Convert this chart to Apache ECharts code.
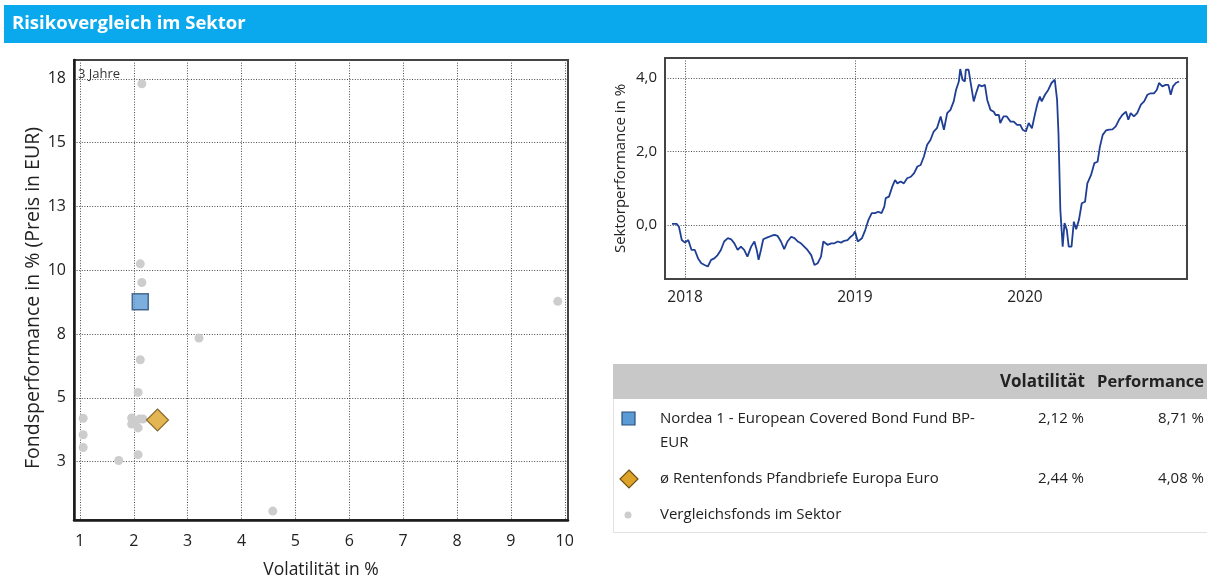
<!DOCTYPE html>
<html><head><meta charset="utf-8">
<script src="https://cdn.jsdelivr.net/npm/echarts@6/dist/echarts.min.js"></script>
<style>html,body{margin:0;padding:0;background:#fff}#c{width:1207px;height:584px}</style>
</head><body><div id="c"></div>
<script>
// ---------- data ----------
const titleText = 'Risikovergleich im Sektor';
const periodLabel = '3 Jahre';
const fundName = ['Nordea 1 - European Covered Bond Fund BP-', 'EUR'];
const fundPoint = [2.12, 8.71];
const avgName = 'ø Rentenfonds Pfandbriefe Europa Euro';
const avgPoint = [2.44, 4.08];
const peersName = 'Vergleichsfonds im Sektor';
const peerPoints = [
  [2.15, 17.26], [2.12, 10.2], [2.15, 9.47], [3.21, 7.29], [2.12, 6.44], [2.08, 5.16],
  [1.96, 4.16], [2.02, 3.96], [2.08, 3.77], [1.96, 3.92], [2.17, 4.12], [2.11, 4.12],
  [2.08, 2.72], [1.72, 2.49], [1.06, 4.15], [1.06, 3.5], [1.06, 3.0], [4.58, 0.51], [9.87, 8.73]
];
const scatterXTicks = [1, 2, 3, 4, 5, 6, 7, 8, 9, 10];
const scatterYTicks = [2.45, 4.95, 7.45, 9.95, 12.45, 14.95, 17.45];
const scatterYTickLabels = ['3', '5', '8', '10', '13', '15', '18'];
const tableHeaders = ['Volatilität', 'Performance'];

const sectorDates = [
 '2017-12-04','2017-12-14','2017-12-19','2017-12-25','2018-01-01','2018-01-08','2018-01-15','2018-01-22','2018-01-29',
 '2018-02-05','2018-02-12','2018-02-19','2018-02-26','2018-03-05','2018-03-12','2018-03-19','2018-03-26','2018-04-03',
 '2018-04-10','2018-04-17','2018-04-24','2018-05-01','2018-05-08','2018-05-15','2018-05-23','2018-05-30','2018-06-04',
 '2018-06-08','2018-06-13','2018-06-18','2018-06-27','2018-07-05','2018-07-12','2018-07-19','2018-07-26','2018-08-02',
 '2018-08-09','2018-08-17','2018-08-24','2018-08-31','2018-09-07','2018-09-14','2018-09-21','2018-09-29','2018-10-06',
 '2018-10-13','2018-10-20','2018-10-25','2018-11-03','2018-11-11','2018-11-18','2018-11-25','2018-12-02','2018-12-09',
 '2018-12-16','2018-12-23','2018-12-28','2019-01-01','2019-01-07','2019-01-16','2019-01-23','2019-01-30','2019-02-06',
 '2019-02-13','2019-02-20','2019-02-27','2019-03-05','2019-03-08','2019-03-15','2019-03-22','2019-03-28','2019-04-02',
 '2019-04-09','2019-04-16','2019-04-23','2019-05-01','2019-05-08','2019-05-15','2019-05-22','2019-05-29','2019-06-05',
 '2019-06-12','2019-06-19','2019-06-26','2019-07-04','2019-07-11','2019-07-18','2019-07-25','2019-08-01','2019-08-06',
 '2019-08-12','2019-08-15','2019-08-20','2019-08-25','2019-08-27','2019-09-02','2019-09-06','2019-09-13','2019-09-18',
 '2019-09-24','2019-10-01','2019-10-07','2019-10-12','2019-10-19','2019-10-26','2019-10-30','2019-11-06','2019-11-09',
 '2019-11-16','2019-11-23','2019-12-01','2019-12-08','2019-12-15','2019-12-22','2019-12-27','2020-01-03','2020-01-09',
 '2020-01-16','2020-01-23','2020-01-28','2020-02-02','2020-02-06','2020-02-13','2020-02-20','2020-02-27','2020-03-05',
 '2020-03-10','2020-03-13','2020-03-17','2020-03-20','2020-03-22','2020-03-26','2020-03-31','2020-04-04','2020-04-10',
 '2020-04-15','2020-04-20','2020-04-26','2020-05-02','2020-05-09','2020-05-14','2020-05-22','2020-05-29','2020-06-05',
 '2020-06-10','2020-06-16','2020-06-23','2020-06-30','2020-07-07','2020-07-14','2020-07-21','2020-07-28','2020-08-05',
 '2020-08-10','2020-08-15','2020-08-22','2020-08-29','2020-09-06','2020-09-13','2020-09-20','2020-09-27','2020-10-04',
 '2020-10-10','2020-10-15','2020-10-22','2020-10-29','2020-11-04','2020-11-09','2020-11-14','2020-11-20','2020-11-27'
];
const sectorValues = [
 0.03, 0.03, -0.05, -0.41, -0.48, -0.41, -0.68, -0.68, -0.91,
 -1.04, -1.09, -1.13, -0.95, -0.91, -0.82, -0.68, -0.45, -0.36,
 -0.39, -0.50, -0.68, -0.59, -0.68, -0.86, -0.59, -0.45, -0.68,
 -0.95, -0.68, -0.39, -0.34, -0.30, -0.27, -0.30, -0.45, -0.66,
 -0.45, -0.32, -0.36, -0.45, -0.50, -0.59, -0.68, -0.82, -1.09,
 -1.04, -0.86, -0.45, -0.54, -0.50, -0.50, -0.45, -0.48, -0.43,
 -0.41, -0.32, -0.27, -0.18, -0.45, -0.36, -0.14, 0.14, 0.32,
 0.32, 0.36, 0.32, 0.50, 0.73, 0.77, 1.04, 1.22, 1.13,
 1.18, 1.13, 1.27, 1.31, 1.41, 1.59, 1.63, 1.86, 2.18,
 2.31, 2.54, 2.63, 2.95, 2.59, 3.04, 3.13, 3.36, 3.67,
 3.90, 4.24, 3.95, 3.90, 4.22, 4.22, 3.90, 3.36, 3.58,
 3.81, 3.77, 3.81, 3.40, 3.13, 3.08, 2.99, 2.99, 2.77,
 2.95, 2.95, 2.81, 2.81, 2.72, 2.72, 2.59, 2.54, 2.77,
 2.63, 3.04, 3.31, 3.49, 3.36, 3.54, 3.67, 3.86, 3.95,
 3.40, 2.49, 0.41, 0.36, -0.59, 0.05, -0.14, -0.59, -0.59,
 0.09, -0.12, 0.14, 0.59, 0.63, 1.13, 1.36, 1.68, 1.72,
 2.13, 2.45, 2.57, 2.59, 2.60, 2.68, 2.86, 2.99, 3.08,
 2.86, 3.04, 2.95, 3.04, 3.27, 3.36, 3.54, 3.58, 3.58,
 3.67, 3.86, 3.77, 3.81, 3.81, 3.54, 3.77, 3.86, 3.90
];
const lineYTicks = [0, 2, 4];
const lineXTicks = ['2018-01-01', '2019-01-01', '2020-01-01'];

// ---------- chart ----------
const FONT = '"Open Sans", "Noto Sans", sans-serif';
const TXT = '#222';
const fmtPct = v => v.toFixed(2).replace('.', ',') + ' %';
const ts = d => Date.parse(d + 'T00:00:00Z');
const chart = echarts.init(document.getElementById('c'), null, {renderer: 'canvas'});
const lineXTickTs = lineXTicks.map(ts);
const dotted = {type: [1, 1.6], color: '#4a4a4a', width: 1};

const option = {
  animation: false,
  backgroundColor: '#fff',
  textStyle: {fontFamily: FONT},
  grid: [
    {left: 74, top: 60, width: 494, height: 465, show: true, borderColor: '#444', borderWidth: 2, containLabel: false},
    {left: 665, top: 58, width: 522, height: 221, show: true, borderColor: '#444', borderWidth: 2, containLabel: false}
  ],
  xAxis: [
    {gridIndex: 0, type: 'value', min: 0.89, max: 10.06,
     name: 'Volatilität in %', nameLocation: 'middle', nameGap: 41,
     nameTextStyle: {fontSize: 17.5, color: TXT, fontFamily: FONT},
     axisLine: {show: true, onZero: false, lineStyle: {color: '#1a1a1a', width: 2.5}},
     axisTick: {show: false, customValues: scatterXTicks},
     axisLabel: {customValues: scatterXTicks, margin: 13, fontSize: 16, color: TXT, fontFamily: FONT},
     splitLine: {show: true, lineStyle: dotted}},
    {gridIndex: 1, type: 'value', min: ts('2017-11-19'), max: ts('2020-12-14'),
     axisLine: {show: true, onZero: false, lineStyle: {color: '#444', width: 2}},
     axisTick: {show: false, customValues: lineXTickTs},
     axisLabel: {customValues: lineXTickTs, margin: 11, fontSize: 15.5, color: TXT, fontFamily: FONT,
       formatter: v => String(new Date(v).getUTCFullYear())},
     splitLine: {show: true, lineStyle: dotted}}
  ],
  yAxis: [
    {gridIndex: 0, type: 'value', min: 0.16, max: 18.19,
     name: 'Fondsperformance in % (Preis in EUR)', nameLocation: 'middle', nameGap: 31,
     nameTextStyle: {fontSize: 19.5, color: TXT, fontFamily: FONT, padding: [0, 16, 0, 0]},
     axisLine: {show: true, onZero: false, lineStyle: {color: '#1a1a1a', width: 2.5}},
     axisTick: {show: false, customValues: scatterYTicks},
     axisLabel: {customValues: scatterYTicks, margin: 8, fontSize: 16, color: TXT, fontFamily: FONT,
       formatter: v => {
         let best = 0;
         scatterYTicks.forEach((t, i) => { if (Math.abs(t - v) < Math.abs(scatterYTicks[best] - v)) best = i; });
         return scatterYTickLabels[best];
       }},
     splitLine: {show: true, lineStyle: dotted}},
    {gridIndex: 1, type: 'value', min: -1.47, max: 4.54,
     name: 'Sektorperformance in %', nameLocation: 'middle', nameGap: 37,
     nameTextStyle: {fontSize: 15, color: TXT, fontFamily: FONT},
     axisLine: {show: true, onZero: false, lineStyle: {color: '#444', width: 2}},
     axisTick: {show: false, customValues: lineYTicks},
     axisLabel: {customValues: lineYTicks, margin: 8, fontSize: 15, color: TXT, fontFamily: FONT,
       formatter: v => v.toFixed(1).replace('.', ',')},
     splitLine: {show: true, lineStyle: dotted}}
  ],
  series: [
    {type: 'scatter', xAxisIndex: 0, yAxisIndex: 0, data: peerPoints, symbol: 'circle', symbolSize: 9,
     itemStyle: {color: '#cdcdcd', opacity: 1}, z: 2},
    {type: 'scatter', xAxisIndex: 0, yAxisIndex: 0, data: [avgPoint], symbol: 'diamond', symbolSize: [22, 22],
     itemStyle: {color: '#dca328', borderColor: '#6e5010', borderWidth: 1.2}, z: 3},
    {type: 'scatter', xAxisIndex: 0, yAxisIndex: 0, data: [fundPoint], symbol: 'rect', symbolSize: 16,
     itemStyle: {color: '#5b9bd5', borderColor: '#2b4f78', borderWidth: 1.5}, z: 4},
    {type: 'line', xAxisIndex: 1, yAxisIndex: 1, showSymbol: false, symbol: 'none',
     data: sectorDates.map((d, i) => [ts(d), sectorValues[i]]),
     lineStyle: {color: '#1f3f95', width: 1.8}, z: 3}
  ],
  graphic: [
    {type: 'rect', shape: {x: 4, y: 5, width: 1203, height: 38}, style: {fill: '#0aa8ec'}},
    {type: 'text', x: 12, y: 24, style: {text: titleText, fill: '#fff', font: 'bold 18.5px ' + FONT, verticalAlign: 'middle'}},
    {type: 'text', x: 78, y: 74, z: 10, style: {text: periodLabel, fill: '#333', font: '13px ' + FONT, verticalAlign: 'middle'}},
    {type: 'rect', shape: {x: 613, y: 364, width: 594, height: 35}, style: {fill: '#c8c8c8'}},
    {type: 'text', x: 1085, y: 382, style: {text: tableHeaders[0], fill: TXT, font: 'bold 17px ' + FONT, align: 'right', verticalAlign: 'middle'}},
    {type: 'text', x: 1204, y: 382, style: {text: tableHeaders[1], fill: TXT, font: 'bold 16.5px ' + FONT, align: 'right', verticalAlign: 'middle'}},
    {type: 'line', shape: {x1: 613.5, y1: 399, x2: 613.5, y2: 533}, style: {stroke: '#e2e2e2', lineWidth: 1}},
    {type: 'line', shape: {x1: 613, y1: 532.5, x2: 1207, y2: 532.5}, style: {stroke: '#e2e2e2', lineWidth: 1}},
    {type: 'rect', shape: {x: 622, y: 412, width: 13, height: 13}, style: {fill: '#5b9bd5', stroke: '#2b4f78', lineWidth: 1.2}},
    {type: 'text', x: 660, y: 419, style: {text: fundName[0], fill: TXT, font: '15px ' + FONT, verticalAlign: 'middle'}},
    {type: 'text', x: 660, y: 443, style: {text: fundName[1], fill: TXT, font: '15px ' + FONT, verticalAlign: 'middle'}},
    {type: 'text', x: 1084, y: 419, style: {text: fmtPct(fundPoint[0]), fill: TXT, font: '15px ' + FONT, align: 'right', verticalAlign: 'middle'}},
    {type: 'text', x: 1204, y: 419, style: {text: fmtPct(fundPoint[1]), fill: TXT, font: '15px ' + FONT, align: 'right', verticalAlign: 'middle'}},
    {type: 'polygon', shape: {points: [[629, 470], [638, 479], [629, 488], [620, 479]]}, style: {fill: '#dca328', stroke: '#6e5010', lineWidth: 1.2}},
    {type: 'text', x: 660, y: 479, style: {text: avgName, fill: TXT, font: '15px ' + FONT, verticalAlign: 'middle'}},
    {type: 'text', x: 1084, y: 479, style: {text: fmtPct(avgPoint[0]), fill: TXT, font: '15px ' + FONT, align: 'right', verticalAlign: 'middle'}},
    {type: 'text', x: 1204, y: 479, style: {text: fmtPct(avgPoint[1]), fill: TXT, font: '15px ' + FONT, align: 'right', verticalAlign: 'middle'}},
    {type: 'circle', shape: {cx: 628, cy: 515, r: 3.5}, style: {fill: '#cdcdcd'}},
    {type: 'text', x: 660, y: 515, style: {text: peersName, fill: TXT, font: '15px ' + FONT, verticalAlign: 'middle'}}
  ]
};
chart.setOption(option);
</script>
</body></html>
